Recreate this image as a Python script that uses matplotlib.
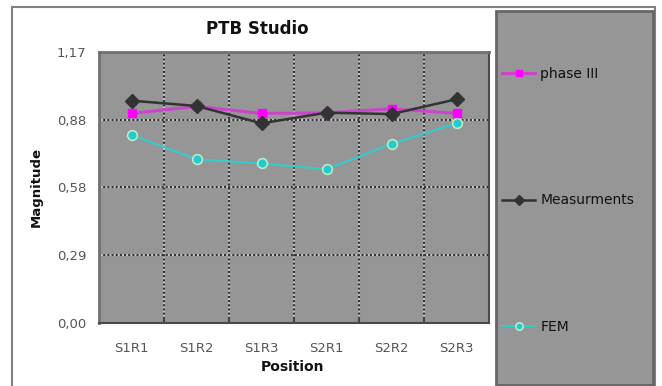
import matplotlib
matplotlib.use("Agg")
import matplotlib.pyplot as plt
from matplotlib.patches import Rectangle

# Magnitude per measuring position
positions = ['S1R1', 'S1R2', 'S1R3', 'S2R1', 'S2R2', 'S2R3']
phase3 = [0.905, 0.935, 0.905, 0.907, 0.925, 0.905]
measurements = [0.960, 0.937, 0.862, 0.908, 0.902, 0.966]
fem = [0.812, 0.707, 0.689, 0.664, 0.773, 0.862]
y_ticks = [0.0, 0.2925, 0.585, 0.8775, 1.17]
y_tick_labels = ['0,00', '0,29', '0,58', '0,88', '1,17']

W, H = 662, 386
fig = plt.figure(figsize=(W / 100, H / 100), dpi=100)
fig.patch.set_facecolor('white')

# outer chart border and grey legend panel
fig.patches.append(Rectangle((12 / W, -0.02), (655 - 12) / W, (H - 7) / H + 0.02,
                             transform=fig.transFigure, fill=False,
                             edgecolor='#808080', lw=1.5, zorder=0))
fig.patches.append(Rectangle((496 / W, 1 / H), (653 - 496) / W, (H - 12) / H,
                             transform=fig.transFigure, facecolor='#969696',
                             edgecolor='#666666', lw=2, zorder=0))

ax = fig.add_axes([99 / W, (H - 323) / H, 390 / W, 271 / H])
ax.set_facecolor('#969696')
x = list(range(len(positions)))

ax.plot(x, fem, color='#33cccc', lw=1.5, marker='o', markersize=7,
        markerfacecolor='#22cccc', markeredgecolor='#bfe8c8', markeredgewidth=1.2,
        label='FEM', zorder=3)
ax.plot(x, phase3, color='#cc44cc', lw=2.2, marker='s', markersize=5.5,
        markerfacecolor='#ff00ff', markeredgecolor='#ff00ff',
        label='phase III', zorder=4)
ax.plot(x, measurements, color='#333333', lw=1.8, marker='D', markersize=7,
        markerfacecolor='#333333', markeredgecolor='#333333',
        label='Measurments', zorder=5)

ax.set_xlim(-0.5, len(positions) - 0.5)
ax.set_ylim(0, 1.17)
ax.set_xticks(x)
ax.set_xticklabels(positions)
ax.set_xticks([i + 0.5 for i in x[:-1]], minor=True)
ax.set_yticks(y_ticks)
ax.set_yticklabels(y_tick_labels)

# dotted grid (dark dots over a light line): horizontal on value ticks,
# vertical between categories
for v in y_ticks[1:-1]:
    ax.axhline(v, color='#c4c4c4', lw=1.5, zorder=1)
    ax.axhline(v, color='#333333', lw=1.5, ls=(0, (1, 1)), zorder=1.1)
for b in [i + 0.5 for i in x[:-1]]:
    ax.axvline(b, color='#c4c4c4', lw=1.5, zorder=1)
    ax.axvline(b, color='#333333', lw=1.5, ls=(0, (1, 1)), zorder=1.1)

ax.tick_params(axis='x', which='major', length=0, pad=14, labelsize=9.5, labelcolor='#555555')
ax.tick_params(axis='x', which='minor', length=4, width=1.5, direction='in', color='#444444')
ax.tick_params(axis='y', length=0, pad=9, labelsize=9.5, labelcolor='#555555')

for side in ['top', 'left']:
    ax.spines[side].set_color('#707070')
    ax.spines[side].set_linewidth(2)
for side in ['bottom', 'right']:
    ax.spines[side].set_color('#4a4a4a')
    ax.spines[side].set_linewidth(1.5)

ax.set_xlabel('Position', fontsize=10, fontweight='bold', color='#111111')
ax.xaxis.set_label_coords(0.497, -0.135)
ax.set_ylabel('Magnitude', fontsize=9.5, fontweight='bold', color='#111111')
ax.yaxis.set_label_coords(-0.145, 0.5)

fig.text(257 / W, 1 - 29 / H, 'PTB Studio', fontsize=12, fontweight='bold',
         ha='center', va='center', color='#111111')

handles, labels = ax.get_legend_handles_labels()
order = [1, 2, 0]
leg = fig.legend([handles[i] for i in order], [labels[i] for i in order],
                 loc='upper left', bbox_to_anchor=(502 / W, 1 - 67 / H),
                 frameon=False, borderpad=0, borderaxespad=0,
                 handlelength=2.4, handletextpad=0.35, labelspacing=8.1,
                 markerscale=0.75, prop={'size': 10})
for t in leg.get_texts():
    t.set_color('#111111')

fig.savefig('out.png', dpi=100)
